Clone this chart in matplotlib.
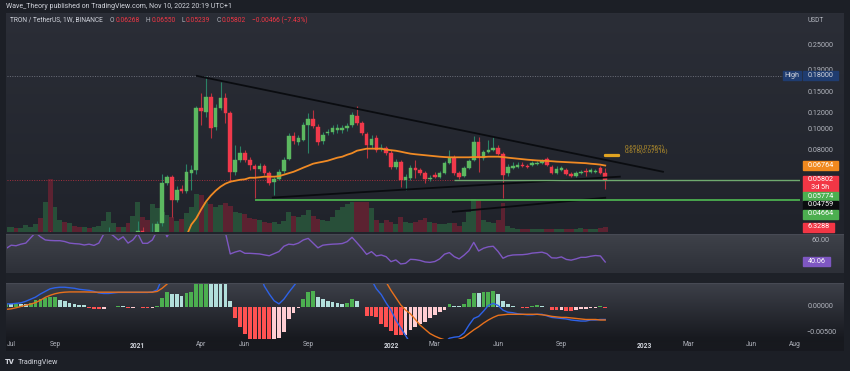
import numpy as np
import pandas as pd
import matplotlib
matplotlib.use("Agg")
import matplotlib.pyplot as plt
import matplotlib.dates as mdates
from matplotlib.colors import to_rgb
from matplotlib.patches import Rectangle
from matplotlib.ticker import NullLocator

plt.rcParams["font.family"] = ["Roboto", "DejaVu Sans"]

W, H = 850, 371

# TRX/USDT 1W (Binance) - week start dates
weeks = pd.date_range("2020-06-29", periods=124, freq="7D")

opens = [.0172, .0180, .0200, .0195, .0212, .0220, .0240, .0280, .0265, .0310,
         .0260, .0265, .0270, .0250, .0255, .0250, .0247, .0255, .0245, .0250,
         .0260, .0285, .0290, .0300, .0290, .0300, .0270, .0300, .0330, .0318,
         .0312, .0320, .0360, .0561, .0599, .0466, .0525, .0514, .0626, .0646,
         .1271, .1217, .1433, .1033, .1271, .1418, .1204, .0632, .0721, .0778,
         .0721, .0675, .0653, .0675, .0626, .0567, .0586, .0639, .0729, .0937,
         .0877, .0897, .1056, .1127, .1033, .0887, .0968, .0978, .1000, .1000,
         .1022, .1056, .1165, .1079, .0957, .0849, .0917, .0813, .0822, .0778,
         .0668, .0705, .0579, .0592, .0661, .0646, .0626, .0586, .0612, .0599,
         .0626, .0698, .0737, .0626, .0605, .0661, .0721, .0877, .0737, .0787,
         .0804, .0822, .0770, .0626, .0661, .0668, .0680, .0675, .0683, .0690,
         .0698, .0729, .0668, .0626, .0646, .0646, .0619, .0605, .0626, .0635,
         .0632, .0632, .0661, .06268]
highs = [.0185, .0205, .0205, .0215, .0230, .0245, .0285, .0300, .0320, .0330,
         .0280, .0290, .0275, .0265, .0262, .0258, .0260, .0258, .0255, .0265,
         .0290, .0345, .0310, .0305, .0310, .0302, .0300, .0370, .0345, .0328,
         .0360, .0370, .0615, .0612, .0612, .0540, .0545, .0690, .0683, .1300,
         .1497, .1800, .1500, .1320, .1689, .1497, .1230, .0849, .0840, .0800,
         .0745, .0690, .0698, .0690, .0640, .0600, .0650, .0740, .0960, .0980,
         .0940, .1090, .1204, .1244, .1060, .0980, .1010, .1050, .1060, .1050,
         .1080, .1210, .1300, .1100, .0980, .0940, .0940, .0860, .0840, .0800,
         .0730, .0720, .0615, .0680, .0721, .0660, .0640, .0610, .0630, .0640,
         .0710, .0804, .0760, .0640, .0675, .0730, .0937, .0927, .0800, .0897,
         .0927, .0850, .0780, .0690, .0705, .0700, .0705, .0690, .0710, .0710,
         .0725, .0740, .0683, .0670, .0675, .0660, .0630, .0635, .0645, .0661,
         .0655, .0650, .0675, .06550]
lows = [.0168, .0178, .0190, .0190, .0200, .0215, .0235, .0255, .0260, .0235,
        .0235, .0255, .0240, .0245, .0245, .0242, .0240, .0240, .0238, .0245,
        .0255, .0260, .0280, .0285, .0285, .0255, .0262, .0285, .0300, .0295,
        .0300, .0305, .0350, .0549, .0387, .0455, .0500, .0500, .0520, .0620,
        .1056, .1150, .0917, .1000, .1240, .1079, .0567, .0610, .0700, .0700,
        .0646, .0476, .0640, .0610, .0549, .0492, .0575, .0625, .0715, .0860,
        .0850, .0880, .0778, .1020, .0850, .0860, .0940, .0950, .0960, .0970,
        .0990, .1030, .1050, .0940, .0737, .0820, .0780, .0790, .0760, .0650,
        .0650, .0537, .0520, .0580, .0592, .0610, .0561, .0570, .0590, .0590,
        .0615, .0690, .0610, .0585, .0595, .0650, .0710, .0632, .0720, .0775,
        .0790, .0755, .0476, .0605, .0650, .0655, .0665, .0655, .0670, .0680,
        .0690, .0675, .0615, .0615, .0635, .0610, .0598, .0598, .0618, .0605,
        .0625, .0625, .0615, .05239]
closes = [.0180, .0200, .0195, .0212, .0220, .0240, .0280, .0265, .0310, .0260,
          .0265, .0270, .0250, .0255, .0250, .0247, .0255, .0245, .0250, .0260,
          .0285, .0290, .0300, .0290, .0300, .0270, .0295, .0330, .0318, .0312,
          .0322, .0358, .0561, .0599, .0466, .0520, .0514, .0632, .0646, .1271,
          .1230, .1433, .1022, .1271, .1418, .1204, .0632, .0721, .0778, .0721,
          .0683, .0653, .0675, .0626, .0561, .0586, .0632, .0721, .0937, .0887,
          .0917, .1056, .1127, .1045, .0877, .0947, .0978, .1022, .1022, .1022,
          .1045, .1178, .1079, .0968, .0849, .0907, .0804, .0822, .0778, .0668,
          .0705, .0579, .0599, .0661, .0646, .0626, .0586, .0592, .0599, .0626,
          .0698, .0737, .0626, .0599, .0661, .0713, .0877, .0737, .0787, .0804,
          .0822, .0770, .0612, .0668, .0675, .0683, .0672, .0668, .0698, .0698,
          .0713, .0683, .0626, .0653, .0661, .0619, .0605, .0626, .0632, .0630,
          .0646, .0639, .0626, .05802]
volume = [5, 5, 4, 4, 7, 5, 8, 14, 30, 53,
          25, 12, 10, 9, 6, 5, 5, 4, 5, 6,
          11, 20, 9, 5, 5, 9, 16, 30, 15, 12,
          28, 24, 20, 17, 15, 11, 13, 19, 25, 38,
          37, 30, 28, 25, 27, 29, 26, 20, 19, 18,
          14, 13, 12, 10, 9, 10, 8, 11, 20, 16,
          15, 17, 22, 16, 13, 12, 11, 15, 22, 25,
          28, 30, 30, 30, 30, 24, 12, 9, 12, 10,
          8, 15, 10, 9, 10, 12, 14, 10, 9, 8,
          8, 9, 9, 6, 10, 20, 33, 32, 12, 10,
          9, 12, 29, 6, 4, 3, 3, 3, 3, 3,
          3, 3, 3, 3, 3, 3, 3, 3, 4, 3,
          3, 3, 4, 5]
ma20 = [np.nan] * 36 + [
    .0290, .0314, .0355, .0380, .0418, .0456, .0487, .0514, .0537, .0555, .0567,
    .0573, .0579, .0582, .0592, .0592, .0595, .0599, .0599, .0599, .0602,
    .0612, .0622, .0632, .0646, .0661, .0675, .0690, .0698, .0705, .0713,
    .0725, .0737, .0745, .0761, .0774, .0795, .0804, .0813, .0813, .0813,
    .0813, .0804, .0800, .0795, .0787, .0778, .0770, .0765, .0761, .0757,
    .0753, .0749, .0745, .0742, .0740, .0740, .0740, .0740, .0740, .0742,
    .0742, .0742, .0745, .0745, .0745, .0742, .0737, .0733, .0729, .0725,
    .0721, .0718, .0715, .0713, .0711, .0709, .0706, .0704, .0702, .0700,
    .0698, .0696, .0694, .0690, .0687, .0683, .06764]
rsi = [53, 56, 55.5, 57, 58, 63, 68, 64, 61, 60.5,
       60.3, 60.3, 59.5, 58, 57.5, 57.2, 56.2, 57, 55.8, 58,
       66.5, 68, 65, 61, 64, 58, 61, 67, 57.8, 57.8,
       61, 70, 75, 64, 72, 78, 75, 80, 82, 75,
       80, 76, 70, 74, 71, 68, 47.7, 49.5, 50.8, 48.3,
       48.3, 48, 47.7, 46.8, 46, 48, 50, 55, 57, 56.5,
       58, 61, 62.5, 58, 53.5, 56, 56.6, 57, 57.2, 57.6,
       59.4, 63.5, 58.4, 53.1, 47.3, 49.9, 45.8, 46.7, 45.1, 40.4,
       42, 38.2, 38.8, 42.6, 42.3, 41.5, 40.1, 39.7, 40.5, 43,
       47.5, 49, 45.1, 43, 46.5, 50.8, 58.7, 50.5, 53.1, 54.5,
       55, 50, 43.6, 45.8, 46.7, 46.9, 47, 47.5, 48.5, 48.9,
       49.4, 48, 44, 43.8, 44.9, 42.5, 41.8, 43, 44.5, 44.5,
       45.5, 46.2, 45.8, 40.06]
# MACD values in units of 1e-3
macd = [0.6, 0.6, 0.7, 0.8, 1.1, 1.5, 1.9, 2.5, 3.0, 3.5,
        3.7, 3.8, 3.8, 3.7, 3.6, 3.4, 3.3, 3.2, 3.0, 2.7,
        2.6, 2.6, 2.7, 2.8, 2.8, 2.8, 2.8, 2.8, 2.8, 2.8,
        2.9, 3.3, 5.5, 8, 10, 12, 14, 17, 20, 25,
        30, 35, 38, 40, 41, 41, 38, 33, 27, 21,
        15, 10, 6.5, 4.0, 2.5, 1.2, 0.6, 1.5, 2.8, 4.0,
        5.2, 7, 9, 10.5, 11, 11, 10.8, 10.5, 10, 9.5,
        9.5, 9.8, 9, 7.5, 6.5, 5.2, 3.5, 2.4, 0.8, -0.6,
        -2.5, -4.0, -5.5, -7, -8, -8.5, -8.7, -8.6, -8.0, -7.5,
        -6.8, -6.0, -5.8, -5.7, -5.0, -3.5, -2.2, -1.8, -0.8, 0.3,
        0.7, 0.3, -0.6, -1.0, -1.1, -1.3, -1.4, -1.5, -1.5, -1.4,
        -1.4, -1.7, -2.0, -2.1, -2.2, -2.3, -2.5, -2.6, -2.7, -2.7,
        -2.5, -2.5, -2.4, -2.4]
signal = [-0.45, -0.35, -0.15, 0.1, 0.35, 0.55, 0.85, 1.3, 1.85, 2.25,
          2.55, 2.75, 2.85, 2.9, 2.9, 2.9, 2.9, 2.88, 2.86, 2.85,
          2.85, 2.85, 2.85, 2.85, 2.85, 2.85, 2.85, 2.85, 2.85, 2.85,
          2.85, 3.0, 3.6, 4.4, 5.5, 7, 9, 11, 13, 15.5,
          18, 21, 24, 27, 29, 30.5, 31, 31, 30, 28.5,
          26.5, 24, 21.5, 19, 16.5, 14, 12, 10.5, 9.5, 9,
          8.7, 8.5, 8.5, 8.7, 9, 9.2, 9.4, 9.5, 9.5, 9.4,
          9.2, 9, 8.8, 8.5, 8.0, 7.4, 6.6, 5.6, 4.8, 3.2,
          1.8, 0.4, -0.6, -1.3, -2.4, -3.5, -4.3, -5.1, -5.6, -6.0,
          -6.3, -6.5, -6.5, -6.2, -5.8, -5.1, -4.4, -3.8, -3.1, -2.5,
          -2.0, -1.6, -1.5, -1.4, -1.4, -1.4, -1.4, -1.4, -1.4, -1.4,
          -1.5, -1.6, -1.8, -1.9, -2.0, -2.0, -2.1, -2.2, -2.3, -2.4,
          -2.4, -2.4, -2.5, -2.5]
hist = [0.58, 0.58, 0.65, 0.65, 0.65, 0.75, 1.35, 1.5, 1.75, 1.86,
        1.9, 1.4, 1.1, 0.8, 0.6, 0.4, 0.3, -0.1, -0.45, -0.48,
        -0.35, 0.05, 0.05, 0.1, 0.1, -0.15, -0.15, 0.02, -0.2, -0.22,
        -0.1, 0.1, 1.8, 2.9, 2.45, 2.45, 2.2, 2.75, 2.9, 5.5,
        6.5, 7, 6, 5.5, 5, 4.8, 1.15, -2.2, -3.8, -5.2,
        -6.2, -6.5, -6.8, -6.9, -7, -6.5, -6, -4.75, -2.3, -1.1,
        -0.26, 1.5, 2.9, 3.1, 2.0, 1.5, 1.15, 1.0, 0.8, 0.65,
        0.85, 1.5, 1.2, -0.05, -1.73, -1.8, -2.0, -3.3, -3.8, -4.6,
        -5.4, -5.45, -5.4, -4.4, -3.8, -3.3, -2.8, -2.2, -1.6, -0.9,
        -0.5, 0.5, 0.25, 0.25, 0.5, 1.5, 2.6, 2.6, 2.8, 2.9,
        3.0, 2.5, 1.15, 0.55, 0.25, -0.05, -0.2, -0.22, 0.2, 0.4,
        0.25, 0.0, -0.5, -0.52, -0.5, -0.7, -0.75, -0.6, -0.4, -0.3,
        -0.2, -0.15, 0.2, -0.1]

# drawings on the chart
high_price = 0.18
last_price = 0.05802
upper_trend = (["2021-03-30", "2023-01-29"], [0.1799, 0.0632])
lower_trend = (["2021-07-17", "2022-11-28"], [0.0477, 0.0599])
bottom_trend = (["2022-04-02", "2022-11-07"], [0.0408, 0.04759])
support_green = ("2021-06-21", 0.04664)
support_light = ("2022-04-04", 0.05774)
fib_levels = [("0.618", 0.07516), ("0.65", 0.07562)]
fib_span = ("2022-11-07", "2022-11-27")
price_ticks = [0.25, 0.19, 0.15, 0.12, 0.10, 0.08]

tick_dates = ["2020-07-06", "2020-09-07", "2021-01-04", "2021-04-05", "2021-06-07",
              "2021-09-06", "2022-01-03", "2022-03-07", "2022-06-06", "2022-09-05",
              "2023-01-02", "2023-03-06", "2023-06-05", "2023-08-07"]
tick_labels = ["Jul", "Sep", "2021", "Apr", "Jun", "Sep", "2022", "Mar", "Jun", "Sep",
               "2023", "Mar", "Jun", "Aug"]


def d(s):
    return mdates.date2num(pd.Timestamp(s).to_pydatetime())


x = mdates.date2num(weeks.to_pydatetime())
xlim = (d("2020-06-30"), d("2023-08-14"))
o, hi, lo, c = map(np.array, (opens, highs, lows, closes))
up = c >= o

fig = plt.figure(figsize=(W / 100, H / 100), dpi=100)


def box(x0, y0, x1, y1):
    return [x0 / W, 1 - y1 / H, (x1 - x0) / W, (y1 - y0) / H]


# ---- background (pane gradients) ----
img = np.empty((H, W, 3))
img[:] = to_rgb("#1c1f26")


def band(y0, y1, top, bottom):
    t = np.linspace(0, 1, y1 - y0)[:, None]
    img[y0:y1, 6:844] = (np.array(to_rgb(top)) * (1 - t) + np.array(to_rgb(bottom)) * t)[:, None, :]


band(13, 234, "#2b2e37", "#20232b")
band(234, 235, "#474a54", "#474a54")
band(235, 273, "#3e4149", "#2d3038")
band(273, 283, "#1e2128", "#1e2128")
band(283, 284, "#474a54", "#474a54")
band(284, 339, "#3c3f48", "#17191f")
band(339, 351, "#17191f", "#17191f")
ax_bg = fig.add_axes([0, 0, 1, 1])
ax_bg.imshow(img, extent=(0, W, H, 0), aspect="auto", interpolation="nearest")
ax_bg.axis("off")


def pane(y0, y1):
    ax = fig.add_axes(box(7, y0, 800, y1))
    ax.set_facecolor("none")
    for s in ax.spines.values():
        s.set_visible(False)
    ax.set_xlim(xlim)
    return ax


def no_ticks(ax):
    ax.xaxis.set_major_locator(NullLocator())
    ax.xaxis.set_minor_locator(NullLocator())
    ax.yaxis.set_major_locator(NullLocator())
    ax.yaxis.set_minor_locator(NullLocator())


ax_v = pane(14, 232)
ax_p = pane(14, 232)
ax_r = pane(235, 283)
ax_m = pane(284, 339)

# ---- volume overlay ----
ax_v.bar(x, volume, width=7, color=np.where(up, "#284f39", "#5c2231"), linewidth=0)
ax_v.set_ylim(0, max(volume) * 4.1)
ax_v.set_xlim(xlim)
no_ticks(ax_v)

# ---- price pane ----
ax_p.set_yscale("log")
ax_p.set_ylim(0.03275, 0.3535)
ax_p.set_xlim(xlim)
no_ticks(ax_p)

ax_p.axhline(high_price, color="#6e717b", lw=0.7, ls=(0, (1, 1.5)), zorder=1)
ax_p.axhline(last_price, color="#a3303f", lw=0.7, ls=(0, (1, 1.5)), zorder=1)

ax_p.vlines(x, lo, hi, colors=np.where(up, "#2b8266", "#b8323f"), lw=0.8, zorder=2)
body_c = np.where(up, "#5cb860", "#f0394b")
ax_p.bar(x, np.abs(c - o), bottom=np.minimum(o, c), width=5.2, color=body_c,
         edgecolor=body_c, linewidth=0.3, zorder=3)

ax_p.plot(x, ma20, color="#f08a24", lw=1.3, zorder=4)

for dates, prices in (upper_trend, lower_trend, bottom_trend):
    ax_p.plot([d(s) for s in dates], prices, color="#0a0c10", lw=1.3, zorder=5)
ax_p.hlines(support_green[1], d(support_green[0]), xlim[1], color="#4caf50", lw=1.3, zorder=5)
ax_p.hlines(support_light[1], d(support_light[0]), xlim[1], color="#6fa96f", lw=1.0, zorder=5)

fx0, fx1 = d(fib_span[0]), d(fib_span[1])
ax_p.fill_between([fx0, fx1], fib_levels[0][1], fib_levels[1][1], color="#e0a321",
                  edgecolor="#e0a321", lw=1.6, zorder=5)
for (lvl, val), dy in zip(fib_levels, (5, 8)):
    ax_p.annotate(f"{lvl}({val:.5f})", xy=(fx1, val), xytext=(5, dy), textcoords="offset pixels",
                  color="#cfa22b", fontsize=4.6, va="center", ha="left", alpha=0.9, zorder=6)

# ---- RSI ----
ax_r.plot(x, rsi, color="#7e57c2", lw=1.0)
ax_r.set_ylim(20.1, 65.7)
no_ticks(ax_r)

# ---- MACD ----
hv = np.array(hist) * 1e-3
prev = np.r_[hv[0] - 1e-4, hv[:-1]]
hcol = np.where(hv >= 0, np.where(hv > prev, "#4caf50", "#b2dfdb"),
                np.where(hv < prev, "#ff5252", "#ffcdd2"))
ax_m.bar(x, hv, width=5.4, color=hcol, linewidth=0)
ax_m.plot(x, np.array(macd) * 1e-3, color="#2e62e8", lw=1.0)
ax_m.plot(x, np.array(signal) * 1e-3, color="#e8711c", lw=1.0)
ax_m.set_ylim(-0.006154, 0.004423)
no_ticks(ax_m)
ax_m.set_xticks([d(s) for s in tick_dates])
ax_m.set_xticklabels(tick_labels)
ax_m.tick_params(axis="x", length=0, pad=1.8, labelsize=4.8, labelcolor="#b2b5be")
for lab in ax_m.get_xticklabels():
    if lab.get_text().isdigit():
        lab.set_color("#d1d4dc")
        lab.set_fontweight("bold")


# ---- right scale ----
def scale_text(ax, val, s, color="#b2b5be"):
    ax.annotate(s, xy=(821, val), xycoords=("figure pixels", "data"), ha="center", va="center",
                fontsize=5.2, color=color, annotation_clip=False)


def ypx(ax, val):
    return H - ax.transData.transform((xlim[0], val))[1]


def tag(yc, s, bg, x0=803, x1=838, hgt=9, fg="#ffffff", lsp=1.2):
    fig.add_artist(Rectangle((x0 / W, 1 - (yc + hgt / 2) / H), (x1 - x0) / W, hgt / H,
                             transform=fig.transFigure, color=bg, zorder=5))
    fig.text((x0 + x1) / 2 / W, 1 - yc / H, s, color=fg, fontsize=5.2, ha="center",
             va="center", zorder=6, linespacing=lsp)


for v in price_ticks:
    scale_text(ax_p, v, f"{v:.5f}")
scale_text(ax_r, 60, "60.00")
scale_text(ax_m, 0.0, "0.00000")
scale_text(ax_m, -0.005, "\u22120.00500")
fig.text(808 / W, 1 - 21 / H, "USDT", color="#b2b5be", fontsize=4.8, va="center")

yh = ypx(ax_p, high_price)
tag(yh, "High", "#1f3c70", x0=783, x1=801, fg="#d1d4dc")
tag(yh, f"{high_price:.5f}", "#1f3c70", fg="#d1d4dc")
tag(ypx(ax_p, ma20[-1]), f"{ma20[-1]:.5f}", "#f0891f")
tag(ypx(ax_p, last_price) + 4, f"{last_price:.5f}\n3d 5h", "#f23645", hgt=16, lsp=1.05)
tag(196, "0.05774", "#4caf50")
tag(205, "0.04759", "#0b0c0f")
tag(214, "0.04664", "#4caf50")
tag(227, "6.3288", "#f23645", x1=834)
tag(ypx(ax_r, rsi[-1]), f"{rsi[-1]:.2f}", "#7e57c2", x1=830)

# ---- header and legend ----
fig.text(6 / W, 1 - 7 / H, "Wave_Theory published on TradingView.com, Nov 10, 2022 20:19 UTC+1",
         color="#d1d4dc", fontsize=5, va="center")

renderer = fig.canvas.get_renderer()
red, grey = "#f23645", "#b2b5be"
legend = [("TRON / TetherUS, 1W, BINANCE", "#d1d4dc", 7),
          ("O", grey, 1), (f"{opens[-1]:.5f}", red, 6),
          ("H", grey, 1), (f"{highs[-1]:.5f}", red, 6),
          ("L", grey, 1), (f"{lows[-1]:.5f}", red, 6),
          ("C", grey, 1), (f"{closes[-1]:.5f}", red, 6),
          ("\u22120.00466 (\u22127.43%)", red, 0)]
xpos = 10
for s, col, gap in legend:
    t = fig.text(xpos / W, 1 - 20 / H, s, color=col, fontsize=4.8, va="center", ha="left")
    xpos += t.get_window_extent(renderer).width + gap

# ---- footer ----
fig.text(5 / W, 1 - 362 / H, "TV", color="#d1d4dc", fontsize=5.5, fontweight="heavy", va="center")
fig.text(18 / W, 1 - 362 / H, "TradingView", color="#d1d4dc", fontsize=5.2, va="center")

fig.savefig("out.png", dpi=100)
